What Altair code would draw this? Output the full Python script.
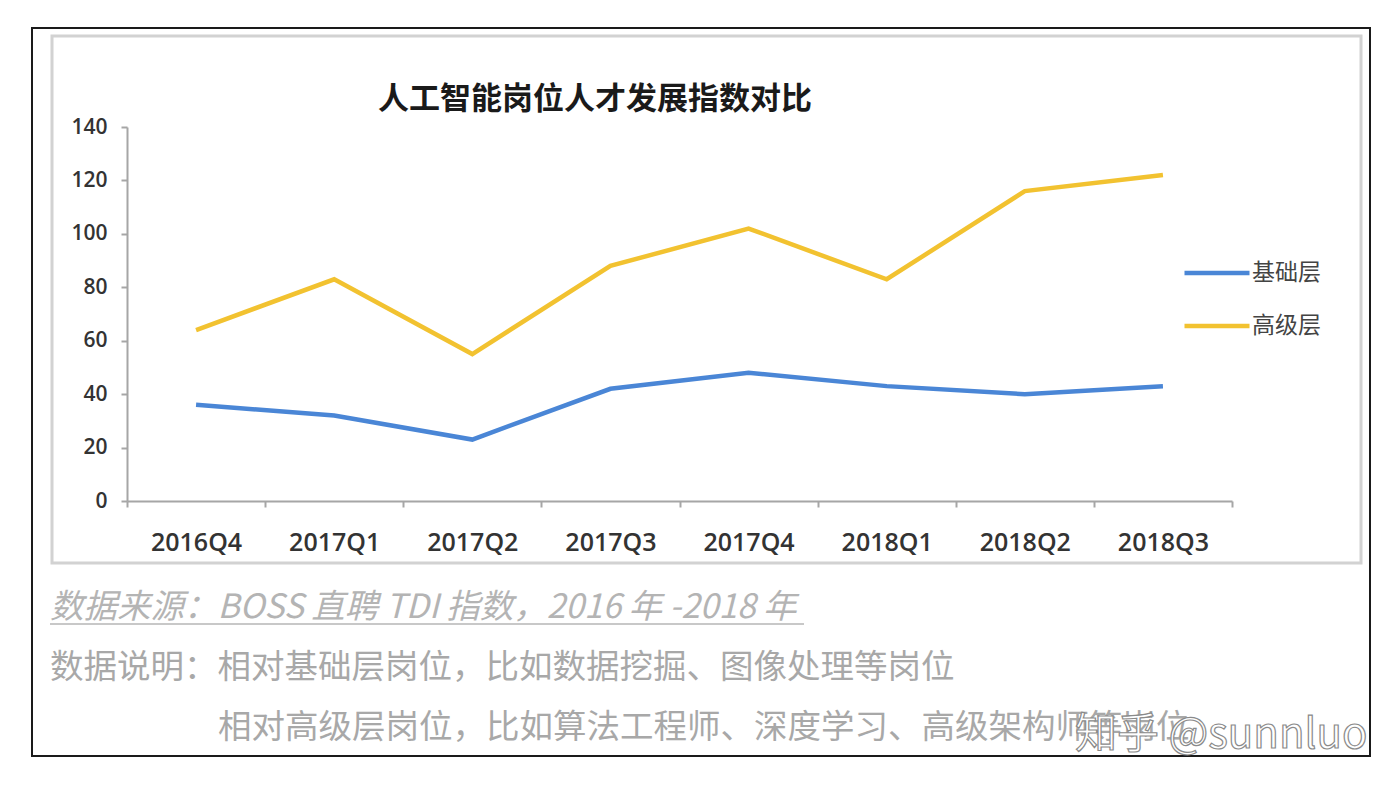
import altair as alt
import pandas as pd

quarters = ["2016Q4", "2017Q1", "2017Q2", "2017Q3", "2017Q4", "2018Q1", "2018Q2", "2018Q3"]
basic = [36, 32, 23, 42, 48, 43, 40, 43]
advanced = [64, 83, 55, 88, 102, 83, 116, 122]
series_names = ["基础层", "高级层"]
series_colors = ["#4a86d6", "#f2c230"]
y_ticks = [0, 20, 40, 60, 80, 100, 120, 140]

title_text = "人工智能岗位人才发展指数对比"
source_text = "数据来源：BOSS 直聘 TDI 指数，2016 年 -2018 年"
note_text1 = "数据说明：相对基础层岗位，比如数据挖掘、图像处理等岗位"
note_text2 = "相对高级层岗位，比如算法工程师、深度学习、高级架构师等岗位"
watermark_text = "知乎 @sunnluo"

df = pd.DataFrame({
    "quarter": quarters * 2,
    "value": basic + advanced,
    "series": [series_names[0]] * len(quarters) + [series_names[1]] * len(quarters),
})

CJK = "Noto Sans CJK SC"

lines = alt.Chart(df).mark_line(strokeWidth=4.5).encode(
    x=alt.X("quarter:N", sort=quarters,
            scale=alt.Scale(type="band", paddingInner=0, paddingOuter=0),
            bandPosition=0.5,
            axis=alt.Axis(title=None, labelAngle=0, tickBand="extent",
                          domainColor="#a6a6a6", domainWidth=2, tickColor="#a6a6a6",
                          tickWidth=2, tickSize=6, labelPadding=23, labelFontSize=25,
                          labelFont="Open Sans", labelFontWeight=600, labelColor="#333333")),
    y=alt.Y("value:Q", scale=alt.Scale(domain=[0, 140], nice=False),
            axis=alt.Axis(title=None, values=y_ticks, grid=False,
                          domainColor="#a6a6a6", domainWidth=2, tickColor="#a6a6a6",
                          tickWidth=2, tickSize=6, labelPadding=14, labelFontSize=21,
                          labelFont="Open Sans", labelFontWeight=600, labelColor="#333333")),
    color=alt.Color("series:N", sort=series_names,
                    scale=alt.Scale(domain=series_names, range=series_colors),
                    legend=alt.Legend(title=None, orient="none", legendX=1055, legendY=111,
                                      symbolType="stroke", symbolSize=4225,
                                      symbolStrokeWidth=4.5, rowPadding=6,
                                      labelFontSize=23, labelFont=CJK, labelColor="#444444",
                                      labelOffset=0)),
)

def text_layer(txt, x, y, **kw):
    return alt.Chart(pd.DataFrame({"t": [txt]})).mark_text(**kw).encode(
        text="t:N", x=alt.value(x), y=alt.value(y))

frame_data = pd.DataFrame({"k": [0]})
outer = alt.Chart(frame_data).mark_rect(filled=False, stroke="#1a1a1a", strokeWidth=2).encode(
    x=alt.value(-95), x2=alt.value(1243), y=alt.value(-99), y2=alt.value(629))
inner = alt.Chart(frame_data).mark_rect(filled=False, stroke="#d2d2d2", strokeWidth=3).encode(
    x=alt.value(-75), x2=alt.value(1234), y=alt.value(-91), y2=alt.value(436))
underline = alt.Chart(frame_data).mark_rule(stroke="#c8c8c8", strokeWidth=2).encode(
    x=alt.value(-77), x2=alt.value(677), y=alt.value(497))

title = text_layer(title_text, 468, -27, font=CJK, fontSize=31, fontWeight="bold",
                   align="center", baseline="middle", color="#1a1a1a")
source = text_layer(source_text, -77, 481, font=CJK, fontSize=33.5, fontStyle="italic",
                    align="left", baseline="middle", color="#b4b4b4")
note1 = text_layer(note_text1, -77, 541, font=CJK, fontSize=33.5,
                   align="left", baseline="middle", color="#a8a8a8")
note2 = text_layer(note_text2, 91, 601, font=CJK, fontSize=33.5,
                   align="left", baseline="middle", color="#a8a8a8")
watermark = text_layer(watermark_text, 948, 608, font=CJK, fontSize=42,
                       align="left", baseline="middle", color="#ffffff",
                       stroke="#8a8a8a", strokeWidth=1.2)

chart = alt.layer(outer, inner, underline, title, source, note1, note2, lines, watermark).properties(
    width=1105, height=374,
    autosize=alt.AutoSizeParams(type="none"),
    padding={"left": 119, "top": 119, "right": 159, "bottom": 283},
    background="white",
).configure_view(stroke=None)

chart.save("out.html", embed_options={"renderer": "svg", "actions": False})
